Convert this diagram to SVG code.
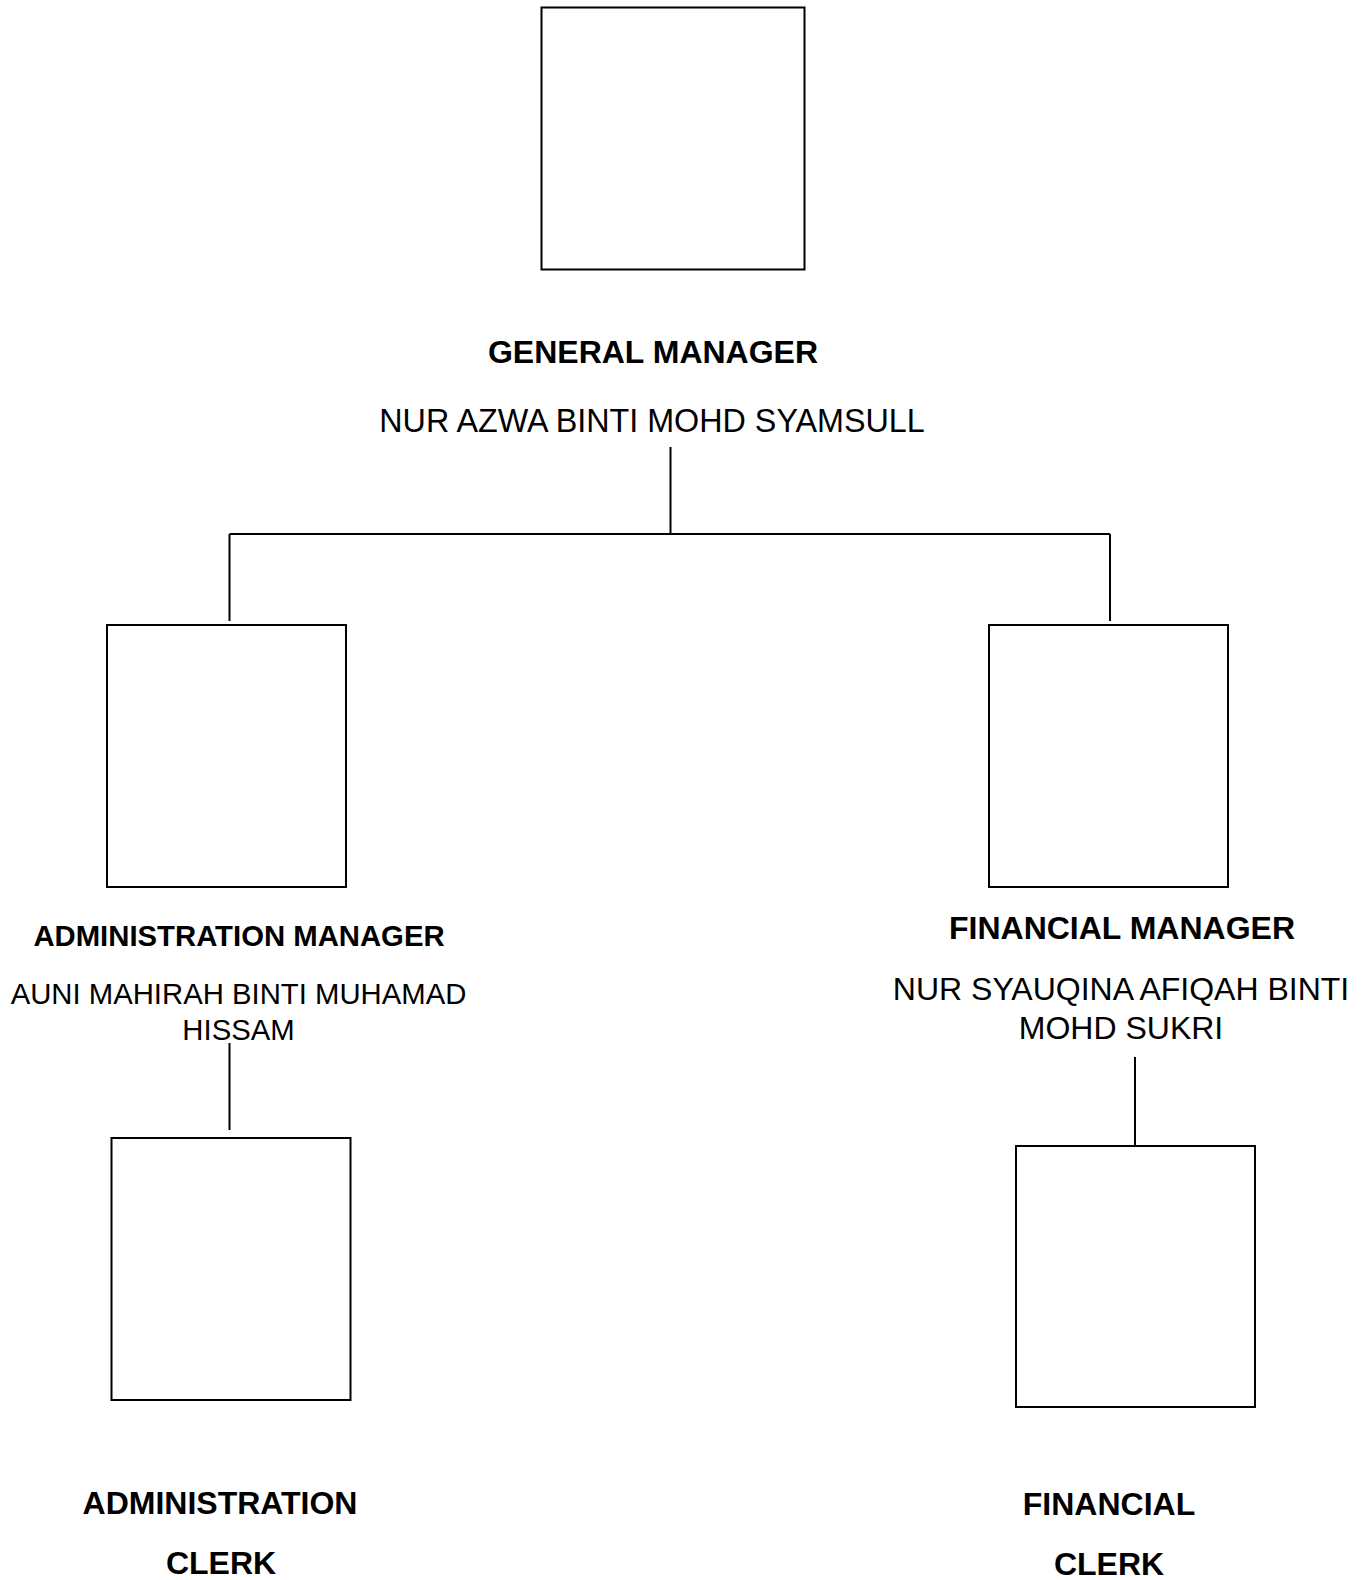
<svg xmlns="http://www.w3.org/2000/svg" width="1372" height="1580" viewBox="0 0 1372 1580">
  <style>
    .box { fill: #ffffff; stroke: #000000; stroke-width: 2; }
    .link { fill: none; stroke: #000000; stroke-width: 2; }
    .title { font-family: "Liberation Sans", Arial, sans-serif; font-weight: bold; fill: #000000; text-anchor: middle; }
    .name { font-family: "Liberation Sans", Arial, sans-serif; fill: #000000; text-anchor: middle; }
  </style>
  <rect x="0" y="0" width="1372" height="1580" fill="#ffffff"/>

  <!-- reporting lines -->
  <g id="connectors">
    <path class="link" d="M670.5 447 V534"/>
    <path class="link" d="M229.5 534 H1110"/>
    <path class="link" d="M229.5 534 V621"/>
    <path class="link" d="M1110 534 V621"/>
    <path class="link" d="M229.5 1043 V1130"/>
    <path class="link" d="M1135 1057 V1146"/>
  </g>

  <g id="general-manager">
    <rect class="box" x="541.5" y="7.5" width="263" height="262"/>
    <text class="title" x="653" y="363" font-size="32">GENERAL MANAGER</text>
    <text class="name" x="652" y="432" font-size="32.3">NUR AZWA BINTI MOHD SYAMSULL</text>
  </g>

  <g id="administration-manager">
    <rect class="box" x="107" y="625" width="239" height="262"/>
    <text class="title" x="239" y="946" font-size="29.3">ADMINISTRATION MANAGER</text>
    <text class="name" x="238.5" y="1004" font-size="29.3">AUNI MAHIRAH BINTI MUHAMAD</text>
    <text class="name" x="238.5" y="1040" font-size="29.3">HISSAM</text>
  </g>

  <g id="financial-manager">
    <rect class="box" x="989" y="625" width="239" height="262"/>
    <text class="title" x="1122" y="939" font-size="32">FINANCIAL MANAGER</text>
    <text class="name" x="1121" y="1000" font-size="32">NUR SYAUQINA AFIQAH BINTI</text>
    <text class="name" x="1121" y="1039" font-size="32">MOHD SUKRI</text>
  </g>

  <g id="administration-clerk">
    <rect class="box" x="111.5" y="1138" width="239" height="262"/>
    <text class="title" x="220" y="1514" font-size="32">ADMINISTRATION</text>
    <text class="title" x="221" y="1574" font-size="32">CLERK</text>
  </g>

  <g id="financial-clerk">
    <rect class="box" x="1016" y="1146" width="239" height="261"/>
    <text class="title" x="1109" y="1515" font-size="32">FINANCIAL</text>
    <text class="title" x="1109" y="1575" font-size="32">CLERK</text>
  </g>
</svg>
